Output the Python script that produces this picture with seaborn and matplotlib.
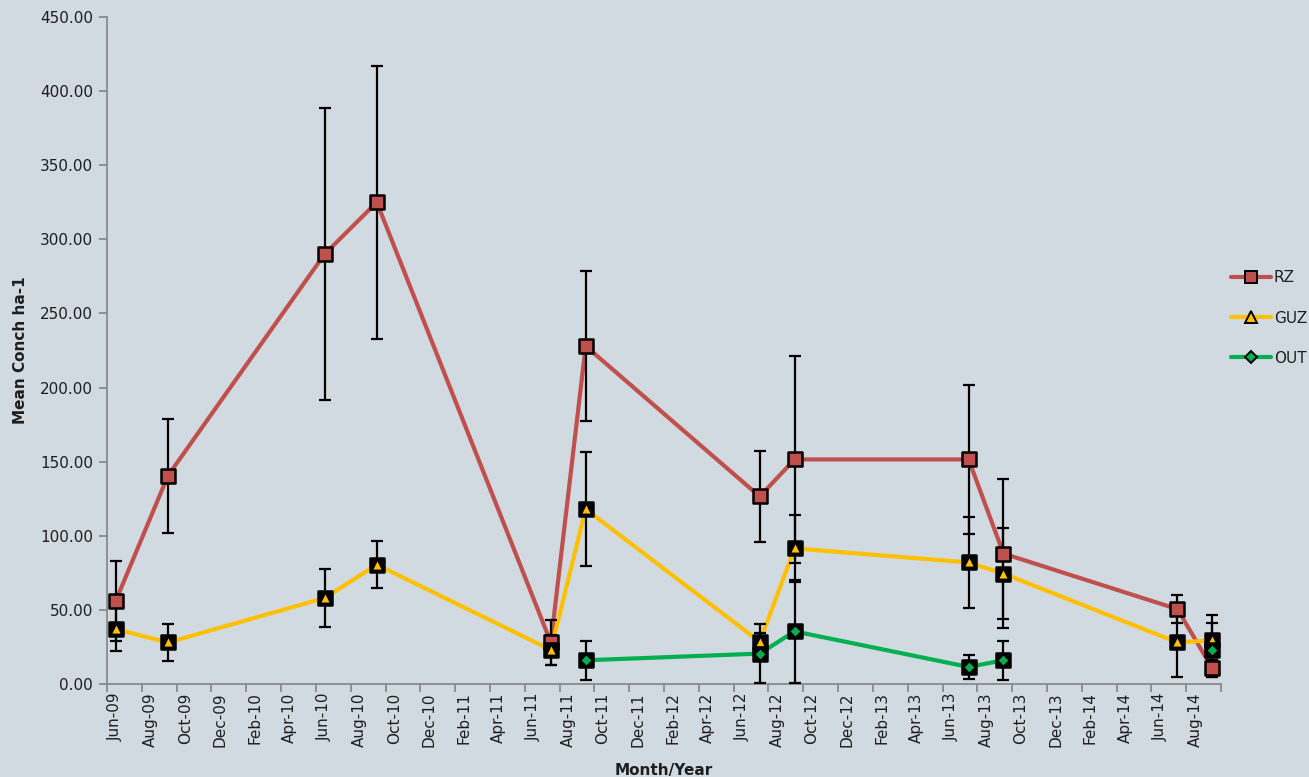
import matplotlib
matplotlib.use("Agg")
import numpy as np
import pandas as pd
import seaborn as sns
import matplotlib.pyplot as plt
from matplotlib.lines import Line2D

# Survey months and mean conch density (with error) per site
survey_months = ["Jun-09", "Sep-09", "Jun-10", "Sep-10", "Jul-11", "Sep-11",
                 "Jul-12", "Sep-12", "Jul-13", "Sep-13", "Jul-14", "Sep-14"]

rz_mean = [56, 140.5, 290, 325, 28, 228, 126.5, 151.5, 151.5, 88, 50.5, 10.5]
rz_err = [27, 38.5, 98.5, 92, 15, 50.5, 30.5, 70, 50.5, 50, 9.5, 6]

guz_mean = [37, 28, 58, 80.5, 23, 118, 28.5, 91.5, 82, 74.5, 28, 29.5]
guz_err = [15, 12.5, 19.5, 16, 10, 38.5, 6, 22.5, 30.5, 30.5, 23.5, 17]

out_mean = [np.nan, np.nan, np.nan, np.nan, np.nan, 16, 20.5, 35.5, 11.5, 16, np.nan, 23]
out_err = [np.nan, np.nan, np.nan, np.nan, np.nan, 13, 20, 35, 8, 13, np.nan, 18]

sites = ["RZ", "GUZ", "OUT"]

tick_labels = ["Jun-09", "Aug-09", "Oct-09", "Dec-09", "Feb-10", "Apr-10",
               "Jun-10", "Aug-10", "Oct-10", "Dec-10", "Feb-11", "Apr-11",
               "Jun-11", "Aug-11", "Oct-11", "Dec-11", "Feb-12", "Apr-12",
               "Jun-12", "Aug-12", "Oct-12", "Dec-12", "Feb-13", "Apr-13",
               "Jun-13", "Aug-13", "Oct-13", "Dec-13", "Feb-14", "Apr-14",
               "Jun-14", "Aug-14"]

y_ticks = [0, 50, 100, 150, 200, 250, 300, 350, 400, 450]

colors = {"RZ": "#C0504D", "GUZ": "#FFC000", "OUT": "#00B050"}
inner_marker = {"GUZ": "^", "OUT": "D"}
legend_marker = {"RZ": "s", "GUZ": "^", "OUT": "D"}
marker_z = {"RZ": 4.0, "GUZ": 4.3, "OUT": 4.6}

BG = "#D2DAE1"
AXIS_GREY = "#8A8A8A"
TEXT = "#1E1E1E"


def month_index(label):
    d = pd.to_datetime(label, format="%b-%y")
    return (d.year - 2009) * 12 + d.month - 6


# Long-form table; a missing survey breaks the line into separate segments
frames = []
for site, means, errs in zip(sites, [rz_mean, guz_mean, out_mean],
                             [rz_err, guz_err, out_err]):
    f = pd.DataFrame({"site": site, "month": survey_months,
                      "conch": means, "err": errs})
    f["x"] = f["month"].map(month_index)
    f["segment"] = f["conch"].isna().cumsum()
    frames.append(f)
df = pd.concat(frames, ignore_index=True).dropna(subset=["conch"])

sns.set_theme(style="ticks")
plt.rcParams["font.family"] = ["DejaVu Sans"]

fig = plt.figure(figsize=(13.09, 7.77), dpi=100, facecolor=BG)
ax = fig.add_axes([107 / 1309, 1 - 684 / 777, 1114 / 1309, 667 / 777])
ax.set_facecolor(BG)

# Connecting lines
sns.lineplot(data=df, x="x", y="conch", hue="site", units="segment",
             estimator=None, palette=colors, hue_order=sites, linewidth=3,
             legend=False, ax=ax, zorder=2)

# Error bars
for site in sites:
    d = df[df["site"] == site]
    ax.errorbar(d["x"], d["conch"], yerr=d["err"], fmt="none", ecolor="black",
                elinewidth=1.6, capsize=4.5, capthick=1.6, zorder=3)

# Markers: RZ is a red square; GUZ and OUT sit in a black square
d = df[df["site"] == "RZ"]
sns.scatterplot(data=d, x="x", y="conch", marker="s", s=105,
                color=colors["RZ"], edgecolor="black", linewidth=1.8,
                legend=False, ax=ax, zorder=marker_z["RZ"])
for site in ["GUZ", "OUT"]:
    d = df[df["site"] == site]
    sns.scatterplot(data=d, x="x", y="conch", marker="s", s=105,
                    color="black", edgecolor="black", linewidth=1.8,
                    legend=False, ax=ax, zorder=marker_z[site])
    sns.scatterplot(data=d, x="x", y="conch", marker=inner_marker[site],
                    s=34 if site == "GUZ" else 24, color=colors[site],
                    linewidth=0, legend=False, ax=ax,
                    zorder=marker_z[site] + 0.1)

# Axes styling
ax.set_xlim(-0.5, 63.5)
ax.set_ylim(0, 450)
ax.set_yticks(y_ticks)
ax.set_yticklabels([f"{v:.2f}" for v in y_ticks])

label_pos = [month_index(t) for t in tick_labels]
ax.set_xticks(np.arange(-0.5, 64, 2))
ax.set_xticklabels([])
ax.set_xticks(label_pos, minor=True)
ax.set_xticklabels(tick_labels, minor=True, rotation=90)

ax.tick_params(axis="x", which="major", length=6, width=1.3,
               color=AXIS_GREY, direction="out")
ax.tick_params(axis="x", which="minor", length=0, pad=6,
               labelsize=11, labelcolor=TEXT)
ax.tick_params(axis="y", length=6, width=1.3, color=AXIS_GREY,
               direction="out", labelsize=11, labelcolor=TEXT, pad=4)

for side in ["top", "right"]:
    ax.spines[side].set_visible(False)
for side in ["left", "bottom"]:
    ax.spines[side].set_color(AXIS_GREY)
    ax.spines[side].set_linewidth(1.3)

ax.set_xlabel("Month/Year", fontsize=11, fontweight="bold", color=TEXT)
ax.set_ylabel("Mean Conch ha-1", fontsize=11, fontweight="bold", color=TEXT)
ax.xaxis.label.set_va("center")
ax.xaxis.set_label_coords(0.5, -0.129)
ax.yaxis.label.set_va("center")
ax.yaxis.set_label_coords(-0.078, 0.5)

# Legend
handles = [Line2D([0], [0], color=colors[s], linewidth=3, marker=legend_marker[s],
                  markersize=8 if s != "OUT" else 6.5,
                  markerfacecolor=colors[s], markeredgecolor="black",
                  markeredgewidth=1.4) for s in sites]
fig.legend(handles, sites, loc="center left",
           bbox_to_anchor=(1231 / 1309, 1 - 318 / 777), frameon=False,
           fontsize=11, handlelength=2.6, handletextpad=0.2,
           labelspacing=1.65, borderpad=0, borderaxespad=0,
           labelcolor=TEXT)

fig.savefig("out.png", dpi=100, facecolor=BG)
